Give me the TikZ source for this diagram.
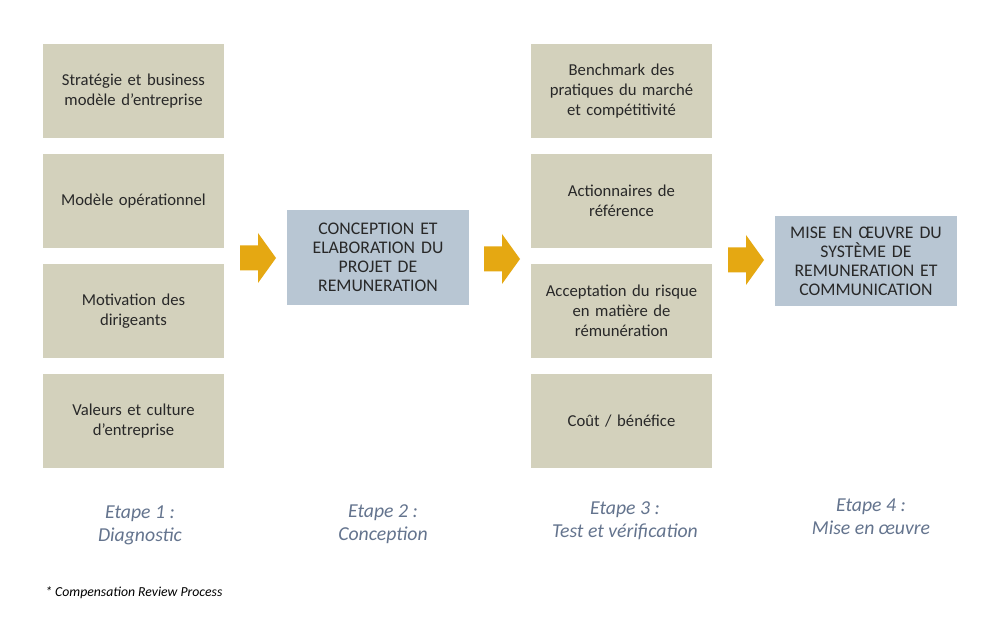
\documentclass[tikz,border=0pt]{standalone}
\usepackage{fontspec}
\setmainfont{Carlito}
\definecolor{beige}{RGB}{211,209,188}
\definecolor{bluebox}{RGB}{184,198,211}
\definecolor{arroworange}{RGB}{229,168,18}
\definecolor{boxtext}{RGB}{40,40,40}
\definecolor{steptext}{RGB}{100,116,142}
\tikzset{
  px/.style={x=0.75pt,y=-0.75pt},
  factorbox/.style={fill=beige, minimum width=135.75pt, minimum height=70.5pt, align=center, inner sep=2pt, text=boxtext, font=\fontsize{12.5pt}{15pt}\selectfont, text width=131pt},
  stagebox/.style={fill=bluebox, minimum width=136pt, minimum height=71pt, align=center, inner sep=2pt, text=boxtext, font=\fontsize{13.3pt}{14.3pt}\selectfont, text width=131pt},
  steplabel/.style={text=steptext, align=center, font=\fontsize{14.8pt}{17.3pt}\selectfont\itshape},
  blockarrow/.style={fill=arroworange}
}
\newcommand\barrow[2]{%
  \fill[blockarrow] (#1,#2) ++(-18,-12.5) -- ++(18,0) -- ++(0,-12.5) -- ++(18,25) -- ++(-18,25) -- ++(0,-12.5) -- ++(-18,0) -- cycle;}
\begin{document}
\begin{tikzpicture}[px]
\useasboundingbox[fill=white] (0,0) rectangle (1000,627);
% column 1
\node[factorbox] (s1) at (133.5,91) {Stratégie et business\\modèle d’entreprise};
\node[factorbox] (m1) at (133.5,201) {Modèle opérationnel};
\node[factorbox] (d1) at (133.5,311) {Motivation des\\dirigeants};
\node[factorbox] (v1) at (133.5,421) {Valeurs et culture\\d’entreprise};
% column 2
\node[stagebox] (c2) at (378,257.5) {CONCEPTION ET\\ELABORATION DU\\PROJET DE\\REMUNERATION};
% column 3
\node[factorbox] (b3) at (621.5,91) {Benchmark des\\pratiques du marché\\et compétitivité};
\node[factorbox] (a3) at (621.5,201) {Actionnaires de\\référence};
\node[factorbox] (r3) at (621.5,311) {Acceptation du risque\\en matière de\\rémunération};
\node[factorbox] (k3) at (621.5,421) {Coût / bénéfice};
% column 4
\node[stagebox, minimum height=67pt] (m4) at (866,261) {MISE EN ŒUVRE DU\\SYSTÈME DE\\REMUNERATION ET\\COMMUNICATION};
% arrows
\barrow{258}{258}
\barrow{502}{259}
\barrow{746}{260}
% step labels
\node[steplabel] (e1) at (140,525) {Etape 1 :\\Diagnostic};
\node[steplabel] (e2) at (383,524) {Etape 2 :\\Conception};
\node[steplabel] (e3) at (625,521) {Etape 3 :\\Test et vérification};
\node[steplabel] (e4) at (871,517) {Etape 4 :\\Mise en œuvre};
% footnote
\node[anchor=west, font=\fontsize{10.3pt}{12pt}\selectfont\itshape, text=black, inner sep=0pt] (fn) at (45,593) {* Compensation Review Process};
\end{tikzpicture}
\end{document}
